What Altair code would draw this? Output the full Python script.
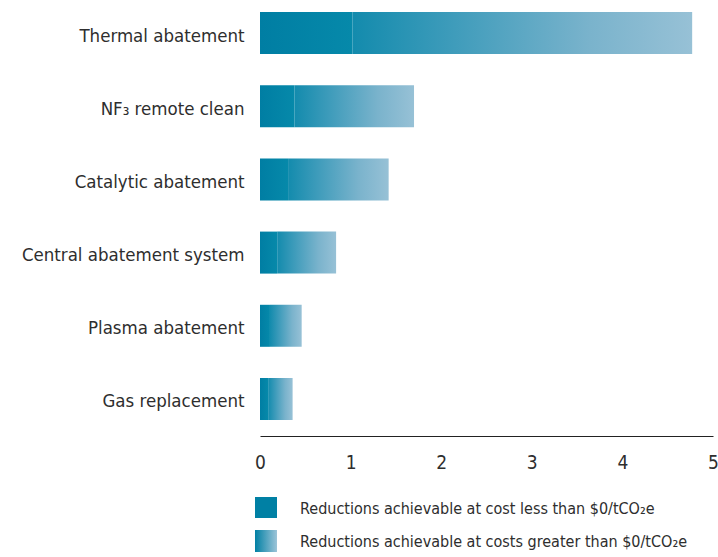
import altair as alt
import pandas as pd

# Abatement options and their reduction potentials
options = [
    "Thermal abatement",
    "NF\u2083 remote clean",
    "Catalytic abatement",
    "Central abatement system",
    "Plasma abatement",
    "Gas replacement",
]
below_zero_cost = [1.02, 0.38, 0.31, 0.19, 0.11, 0.09]   # achievable at cost < $0/tCO2e
total_reduction = [4.77, 1.70, 1.42, 0.84, 0.46, 0.36]   # total achievable
x_ticks = [0, 1, 2, 3, 4, 5]

df = pd.DataFrame({
    "option": options,
    "low": below_zero_cost,
    "total": total_reduction,
})
df["zero"] = 0

FONT = "DejaVu Sans Condensed, Liberation Sans Narrow, sans-serif"
TEXT = "#2e2e2e"
DARK = "#0080a4"

dark_fill = alt.LinearGradient(
    gradient="linear", x1=0, x2=1, y1=0, y2=0,
    stops=[alt.GradientStop(color="#007ea3", offset=0),
           alt.GradientStop(color="#0689aa", offset=1)],
)
light_fill = alt.LinearGradient(
    gradient="linear", x1=0, x2=1, y1=0, y2=0,
    stops=[alt.GradientStop(color="#138bad", offset=0),
           alt.GradientStop(color="#3f9cbb", offset=0.3),
           alt.GradientStop(color="#7ab3cc", offset=0.7),
           alt.GradientStop(color="#97c1d6", offset=1)],
)

y_enc = alt.Y(
    "option:N", sort=options, title=None,
    scale=alt.Scale(paddingInner=0.426, paddingOuter=0.164),
    axis=alt.Axis(domain=False, ticks=False, grid=False, labelFontSize=18.5,
                  labelFont=FONT, labelColor=TEXT, labelPadding=16, labelLimit=300,
                  labelOffset=2.5),
)
x_scale = alt.Scale(domain=[0, 5], nice=False)
x_axis = alt.Axis(values=x_ticks, format="d", grid=False, ticks=False,
                  domainColor="#222222", domainWidth=1.2, offset=4,
                  labelFontSize=19, labelFont=FONT, labelColor=TEXT,
                  labelPadding=17, labelFlush=False, title=None)

base = alt.Chart(df)

upper = base.mark_bar(color=light_fill).encode(
    x=alt.X("low:Q", scale=x_scale, axis=x_axis),
    x2="total:Q",
    y=y_enc,
)
lower = base.mark_bar(color=dark_fill).encode(
    x=alt.X("zero:Q", scale=x_scale),
    x2="low:Q",
    y=y_enc,
)

# Legend swatches and captions placed beneath the axis
legend_df = pd.DataFrame({
    "label": ["Reductions achievable at cost less than $0/tCO\u2082e",
              "Reductions achievable at costs greater than $0/tCO\u2082e"],
})
sw_dark = alt.Chart(legend_df.iloc[[0]]).mark_rect(color=DARK).encode(
    x=alt.value(-5), x2=alt.value(17), y=alt.value(497), y2=alt.value(518))
sw_grad = alt.Chart(legend_df.iloc[[1]]).mark_rect(color=alt.LinearGradient(
    gradient="linear", x1=0, x2=1, y1=0, y2=0,
    stops=[alt.GradientStop(color="#0080a4", offset=0),
           alt.GradientStop(color="#9cc4d8", offset=1)])).encode(
    x=alt.value(-5), x2=alt.value(17), y=alt.value(530), y2=alt.value(552))
txt1 = alt.Chart(legend_df.iloc[[0]]).mark_text(
    align="left", baseline="middle", font=FONT, fontSize=16, color=TEXT).encode(
    x=alt.value(40), y=alt.value(509), text="label:N")
txt2 = alt.Chart(legend_df.iloc[[1]]).mark_text(
    align="left", baseline="middle", font=FONT, fontSize=16, color=TEXT).encode(
    x=alt.value(40), y=alt.value(542), text="label:N")

chart = alt.layer(upper, lower, sw_dark, sw_grad, txt1, txt2).properties(
    width=453, height=432,
    background="white",
    autosize=alt.AutoSizeParams(type="none"),
    padding={"left": 260, "top": 0, "right": 5, "bottom": 125},
).configure_view(stroke=None).configure_axis(grid=False)

chart.save("out.html", embed_options={"renderer": "svg", "actions": False})
